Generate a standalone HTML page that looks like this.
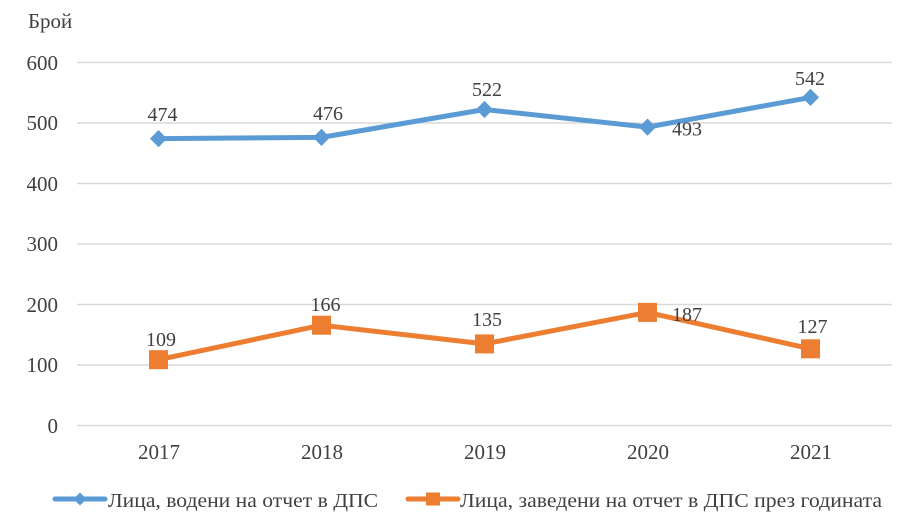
<!DOCTYPE html>
<html>
<head>
<meta charset="utf-8">
<style>
  html, body { margin: 0; padding: 0; background: #ffffff; }
  svg { display: block; }
  text { font-family: "Liberation Serif", "DejaVu Serif", serif; fill: #404040; }
</style>
</head>
<body>
<svg width="915" height="523" viewBox="0 0 915 523" xmlns="http://www.w3.org/2000/svg">
  <rect width="915" height="523" fill="#ffffff"/>
  <!-- axis title -->
  <text x="28" y="28" font-size="21">Брой</text>

  <!-- gridlines -->
  <g stroke="#D9D9D9" stroke-width="1.5">
    <line x1="77" x2="892" y1="62.5" y2="62.5"/>
    <line x1="77" x2="892" y1="123" y2="123"/>
    <line x1="77" x2="892" y1="183.5" y2="183.5"/>
    <line x1="77" x2="892" y1="244" y2="244"/>
    <line x1="77" x2="892" y1="304.5" y2="304.5"/>
    <line x1="77" x2="892" y1="365" y2="365"/>
    <line x1="77" x2="892" y1="425.5" y2="425.5"/>
  </g>

  <!-- y labels -->
  <g font-size="21" text-anchor="end">
    <text x="58" y="70">600</text>
    <text x="58" y="130">500</text>
    <text x="58" y="191">400</text>
    <text x="58" y="251">300</text>
    <text x="58" y="312">200</text>
    <text x="58" y="372">100</text>
    <text x="58" y="433">0</text>
  </g>

  <!-- x labels -->
  <g font-size="21" text-anchor="middle">
    <text x="159" y="459">2017</text>
    <text x="322" y="459">2018</text>
    <text x="485" y="459">2019</text>
    <text x="648" y="459">2020</text>
    <text x="811" y="459">2021</text>
  </g>

  <!-- blue series -->
  <polyline points="158.5,138.6 321.5,137.4 484.5,109.5 647.5,127.1 810.5,97.4" fill="none" stroke="#5B9BD5" stroke-width="5" stroke-linejoin="round"/>
  <g fill="#5B9BD5">
    <polygon points="158.5,130 167,138.6 158.5,147.2 150,138.6"/>
    <polygon points="321.5,128.8 330,137.4 321.5,146 313,137.4"/>
    <polygon points="484.5,100.9 493,109.5 484.5,118.1 476,109.5"/>
    <polygon points="647.5,118.5 656,127.1 647.5,135.7 639,127.1"/>
    <polygon points="810.5,88.8 819,97.4 810.5,106 802,97.4"/>
  </g>

  <!-- orange series -->
  <polyline points="158.5,359.7 321.5,325.2 484.5,343.9 647.5,312.4 810.5,348.8" fill="none" stroke="#ED7D31" stroke-width="5" stroke-linejoin="round"/>
  <g fill="#ED7D31">
    <rect x="149" y="350.2" width="19" height="19"/>
    <rect x="312" y="315.7" width="19" height="19"/>
    <rect x="475" y="334.4" width="19" height="19"/>
    <rect x="638" y="302.9" width="19" height="19"/>
    <rect x="801" y="339.3" width="19" height="19"/>
  </g>

  <!-- data labels -->
  <g font-size="20" text-anchor="middle">
    <text x="162.5" y="121">474</text>
    <text x="328" y="120">476</text>
    <text x="487" y="96">522</text>
    <text x="810" y="85">542</text>
    <text x="161" y="346">109</text>
    <text x="325.5" y="311">166</text>
    <text x="487" y="326">135</text>
    <text x="812.5" y="333">127</text>
  </g>
  <g font-size="20" text-anchor="start">
    <text x="672" y="135.5">493</text>
    <text x="672" y="321">187</text>
  </g>

  <!-- legend -->
  <line x1="55" x2="105" y1="499" y2="499" stroke="#5B9BD5" stroke-width="5" stroke-linecap="round"/>
  <polygon points="80,492.5 86.5,499 80,505.5 73.5,499" fill="#5B9BD5"/>
  <text x="108" y="507" font-size="20" textLength="270" lengthAdjust="spacingAndGlyphs">Лица, водени на отчет в ДПС</text>

  <line x1="408" x2="458" y1="499" y2="499" stroke="#ED7D31" stroke-width="5" stroke-linecap="round"/>
  <rect x="426" y="492.5" width="14" height="13" fill="#ED7D31"/>
  <text x="460" y="507" font-size="20" textLength="422" lengthAdjust="spacingAndGlyphs">Лица, заведени на отчет в ДПС през годината</text>
</svg>
</body>
</html>
